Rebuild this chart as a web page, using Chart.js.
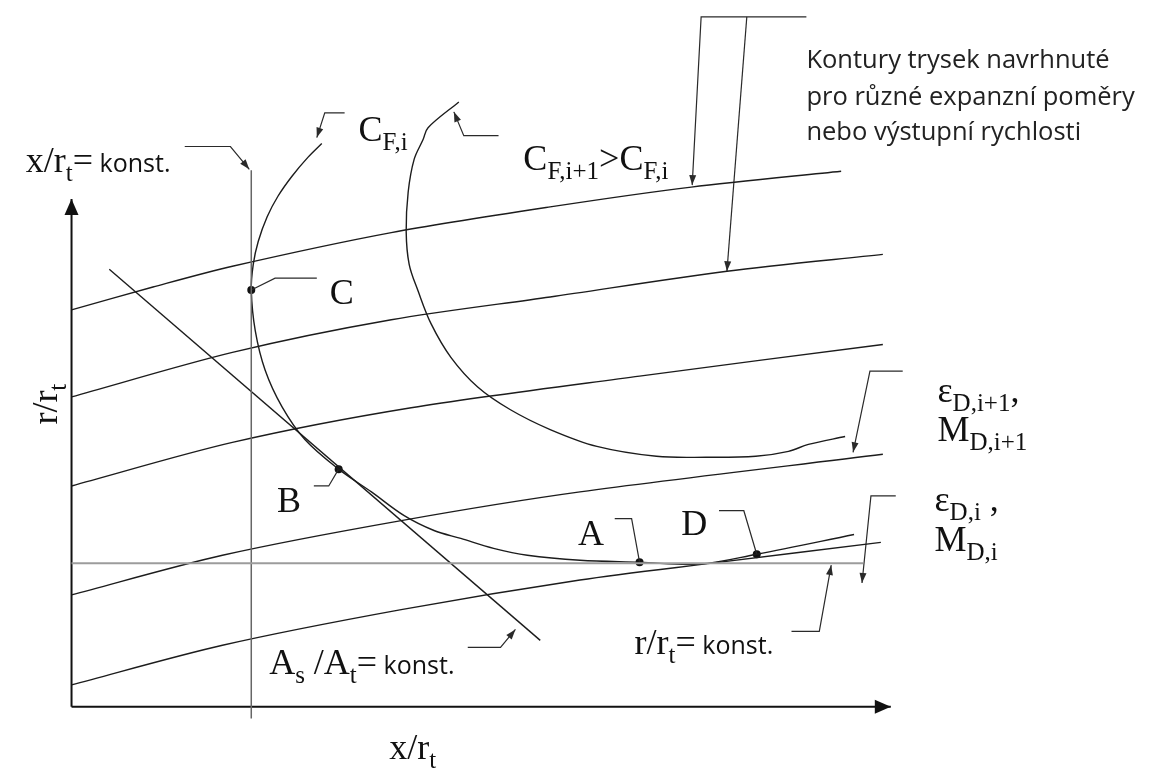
<!DOCTYPE html>
<html>
<head>
<meta charset="utf-8">
<title>Kontury trysek</title>
<script src="https://cdn.jsdelivr.net/npm/chart.js@4.4.1/dist/chart.umd.min.js"></script>
<style>
  html, body { margin: 0; padding: 0; background: #fff; }
  #wrap { width: 1152px; height: 774px; }
</style>
</head>
<body>
<div id="wrap"><canvas id="chart" width="1152" height="774"></canvas></div>
<script>
// all points are [x/r_t, r/r_t] in diagram units, origin at the axes corner

// nozzle contours for different expansion ratios (top to bottom)
const nozzle1 = [[0, 4.01], [0.82, 4.24], [1.62, 4.45], [3.22, 4.79], [4.82, 5.05], [6.24, 5.25], [7.75, 5.41]];
const nozzle2 = [[0, 3.13], [1.62, 3.58], [3.22, 3.91], [4.82, 4.14], [6.60, 4.40], [8.17, 4.57]];
const nozzle3 = [[0, 2.23], [1.62, 2.67], [3.42, 3.02], [5.72, 3.34], [8.17, 3.66]];
const nozzle4 = [[0, 1.13], [1.52, 1.53], [3.32, 1.88], [5.12, 2.17], [8.17, 2.55]];
const nozzle5 = [[0, 0.22], [1.52, 0.62], [3.32, 0.98], [5.12, 1.28], [6.45, 1.45], [8.15, 1.66]];

// constant thrust coefficient curves
const thrustCurveI = [
  [2.52, 5.69], [2.38, 5.55], [2.22, 5.36], [2.08, 5.16], [1.97, 4.95], [1.88, 4.70],
  [1.83, 4.47], [1.81, 4.21], [1.85, 3.80], [1.95, 3.40], [2.12, 3.03], [2.35, 2.70],
  [2.69, 2.40], [3.02, 2.17], [3.35, 1.93], [3.65, 1.78], [3.92, 1.70], [4.25, 1.60],
  [4.59, 1.53], [5.12, 1.48], [5.72, 1.46], [6.32, 1.44], [6.90, 1.54], [7.88, 1.74]
];
const thrustCurveNext = [
  [3.90, 6.11], [3.59, 5.85], [3.54, 5.73], [3.45, 5.53], [3.39, 5.20], [3.37, 4.80],
  [3.40, 4.47], [3.49, 4.20], [3.62, 3.87], [3.82, 3.53], [4.09, 3.23], [4.42, 3.00],
  [4.82, 2.80], [5.29, 2.63], [5.89, 2.53], [6.39, 2.52], [6.89, 2.53], [7.22, 2.58],
  [7.42, 2.65], [7.79, 2.73]
];

// constant lines
const areaRatioLine = [[0.38, 4.42], [4.72, 0.67]];
const lengthLine = [[1.81, 5.42], [1.81, -0.12]];
const radiusLine = [[0, 1.45], [7.97, 1.45]];

// axes
const yAxisLine = [[0, 0], [0, 5.13]];
const xAxisLine = [[0, 0], [8.25, 0]];

// marked points C, B, A, D
const markedPoints = [[1.81, 4.21], [2.69, 2.40], [5.72, 1.46], [6.90, 1.54]];

// leader lines, arrow at the last point where flagged
const leaderLength = [[1.14, 5.66], [1.60, 5.66], [1.79, 5.43]];
const leaderCfi = [[2.75, 6.00], [2.55, 6.00], [2.47, 5.75]];
const leaderCfNext = [[4.30, 5.77], [3.95, 5.77], [3.85, 6.01]];
const leaderNoteA = [[7.40, 6.97], [6.34, 6.97], [6.25, 5.27]];
const leaderNoteB = [[6.80, 6.97], [6.60, 4.40]];
const leaderC = [[1.81, 4.21], [2.05, 4.33], [2.47, 4.33]];
const leaderB = [[2.69, 2.40], [2.59, 2.23], [2.44, 2.23]];
const leaderA = [[5.72, 1.46], [5.64, 1.90], [5.47, 1.90]];
const leaderD = [[6.90, 1.54], [6.77, 1.98], [6.52, 1.98]];
const leaderRadius = [[7.25, 0.76], [7.53, 0.76], [7.65, 1.43]];
const leaderArea = [[3.99, 0.60], [4.32, 0.60], [4.47, 0.78]];
const leaderEpsNext = [[8.37, 3.39], [8.04, 3.39], [7.87, 2.57]];
const leaderEps = [[8.30, 2.13], [8.05, 2.13], [7.96, 1.25]];

const noteLines = ['Kontury trysek navrhnuté', 'pro různé expanzní poměry', 'nebo výstupní rychlosti'];

const fonts = {
  serif: '36px "Liberation Serif", "Times New Roman", serif',
  sub: '25px "Liberation Serif", "Times New Roman", serif',
  sans: '25px "Open Sans", sans-serif',
  note: '25.5px "Open Sans", sans-serif'
};

// text placed at [x, y] (left, baseline) in diagram units
const labels = [
  { at: [-0.46, 5.40], runs: [['x/r', 'serif'], ['t', 'sub'], ['=', 'serif'], [' konst.', 'sans']] },
  { at: [2.89, 5.72], runs: [['C', 'serif'], ['F,i', 'sub']] },
  { at: [4.55, 5.42], runs: [['C', 'serif'], ['F,i+1', 'sub'], ['>', 'serif'], ['C', 'serif'], ['F,i', 'sub']] },
  { at: [2.60, 4.07], runs: [['C', 'serif']] },
  { at: [2.07, 1.97], runs: [['B', 'serif']] },
  { at: [5.10, 1.63], runs: [['A', 'serif']] },
  { at: [6.14, 1.73], runs: [['D', 'serif']] },
  { at: [1.99, 0.33], runs: [['A', 'serif'], ['s', 'sub'], [' /A', 'serif'], ['t', 'sub'], ['=', 'serif'], [' konst.', 'sans']] },
  { at: [5.67, 0.53], runs: [['r/r', 'serif'], ['t', 'sub'], ['=', 'serif'], [' konst.', 'sans']] },
  { at: [8.72, 3.08], runs: [['ε', 'serif'], ['D,i+1', 'sub'], [',', 'serif']] },
  { at: [8.72, 2.68], runs: [['M', 'serif'], ['D,i+1', 'sub']] },
  { at: [8.69, 1.98], runs: [['ε', 'serif'], ['D,i', 'sub'], [' ,', 'serif']] },
  { at: [8.69, 1.57], runs: [['M', 'serif'], ['D,i', 'sub']] },
  { at: [3.20, -0.53], runs: [['x/r', 'serif'], ['t', 'sub']] },
  { at: [-0.15, 2.85], rotate: true, runs: [['r/r', 'serif'], ['t', 'sub']] },
  { at: [7.40, 6.45], color: '#222', runs: [[noteLines[0], 'note']] },
  { at: [7.40, 6.08], color: '#222', runs: [[noteLines[1], 'note']] },
  { at: [7.40, 5.73], color: '#222', runs: [[noteLines[2], 'note']] }
];

function path(points, opts) {
  return Object.assign({
    data: points.map(([x, y]) => ({ x, y })),
    showLine: true,
    borderColor: '#1c1c1c',
    backgroundColor: '#1c1c1c',
    borderWidth: 1.4,
    tension: 0,
    pointRadius: 0,
    fill: false
  }, opts);
}

const leaderStyle = { borderColor: '#2a2a2a', backgroundColor: '#2a2a2a', borderWidth: 1.2 };
const leaderArrow = Object.assign({ arrow: [10, 3.5] }, leaderStyle);

const datasets = [
  path(radiusLine, { borderColor: '#9c9c9c', borderWidth: 2 }),
  path(lengthLine, { borderColor: '#666', borderWidth: 1.5 }),
  path(nozzle1, { tension: 0.3 }),
  path(nozzle2, { tension: 0.3 }),
  path(nozzle3, { tension: 0.3 }),
  path(nozzle4, { tension: 0.3 }),
  path(nozzle5, { tension: 0.3 }),
  path(thrustCurveI, { tension: 0.35 }),
  path(thrustCurveNext, { tension: 0.35 }),
  path(areaRatioLine),
  path(yAxisLine, { borderColor: '#111', backgroundColor: '#111', borderWidth: 2, arrow: [16, 7] }),
  path(xAxisLine, { borderColor: '#111', backgroundColor: '#111', borderWidth: 2, arrow: [16, 7] }),
  path(leaderLength, leaderArrow),
  path(leaderCfi, leaderArrow),
  path(leaderCfNext, leaderArrow),
  path(leaderNoteA, leaderArrow),
  path(leaderNoteB, leaderArrow),
  path(leaderC, leaderStyle),
  path(leaderB, leaderStyle),
  path(leaderA, leaderStyle),
  path(leaderD, leaderStyle),
  path(leaderRadius, leaderArrow),
  path(leaderArea, leaderArrow),
  path(leaderEpsNext, leaderArrow),
  path(leaderEps, leaderArrow),
  path(markedPoints, { showLine: false, pointRadius: 4, pointBorderWidth: 0, pointBackgroundColor: '#111' })
];

// filled arrowheads at the end of flagged datasets
const arrowHeads = {
  id: 'arrowHeads',
  afterDatasetsDraw(chart) {
    const ctx = chart.ctx;
    chart.data.datasets.forEach((ds, i) => {
      if (!ds.arrow) return;
      const pts = chart.getDatasetMeta(i).data;
      const tip = pts[pts.length - 1];
      const prev = pts[pts.length - 2];
      const ang = Math.atan2(tip.y - prev.y, tip.x - prev.x);
      const [len, half] = ds.arrow;
      ctx.save();
      ctx.translate(tip.x, tip.y);
      ctx.rotate(ang);
      ctx.beginPath();
      ctx.moveTo(0, 0);
      ctx.lineTo(-len, -half);
      ctx.lineTo(-len, half);
      ctx.closePath();
      ctx.fillStyle = ds.borderColor;
      ctx.fill();
      ctx.restore();
    });
  }
};

// labels with subscripts
const textLabels = {
  id: 'textLabels',
  afterDraw(chart) {
    const ctx = chart.ctx;
    const sx = chart.scales.x, sy = chart.scales.y;
    labels.forEach(lb => {
      ctx.save();
      ctx.translate(sx.getPixelForValue(lb.at[0]), sy.getPixelForValue(lb.at[1]));
      if (lb.rotate) ctx.rotate(-Math.PI / 2);
      ctx.fillStyle = lb.color || '#111';
      ctx.textBaseline = 'alphabetic';
      let x = 0;
      lb.runs.forEach(([txt, kind]) => {
        ctx.font = fonts[kind];
        ctx.fillText(txt, x, kind === 'sub' ? 9 : 0);
        x += ctx.measureText(txt).width;
      });
      ctx.restore();
    });
  }
};

new Chart(document.getElementById('chart'), {
  type: 'scatter',
  data: { datasets },
  options: {
    responsive: false,
    devicePixelRatio: 1,
    animation: false,
    layout: { padding: 0 },
    scales: {
      x: { type: 'linear', min: -0.68, max: 10.84, display: false },
      y: { type: 'linear', min: -0.64, max: 7.10, display: false }
    },
    plugins: {
      legend: { display: false },
      tooltip: { enabled: false }
    },
    events: []
  },
  plugins: [arrowHeads, textLabels]
});
</script>
</body>
</html>
